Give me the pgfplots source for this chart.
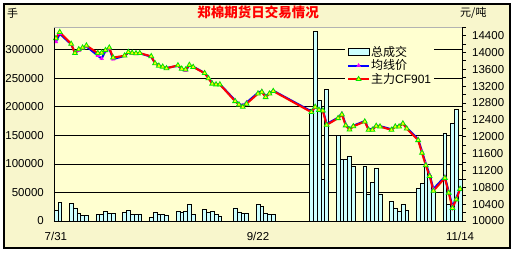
\documentclass[border=0pt]{standalone}
\usepackage{fontspec}
\setmainfont{Liberation Sans}
\newfontfamily\cjk{Noto Sans CJK SC}
\usepackage{pgfplots}
\pgfplotsset{compat=1.18}
\usepackage{pgfplotstable}
\definecolor{plotbg}{RGB}{255,255,208}
\definecolor{outerbg}{RGB}{248,246,204}
\definecolor{barfill}{RGB}{204,255,255}
\definecolor{mgreen}{RGB}{0,230,0}
\definecolor{myellow}{RGB}{255,255,0}
\definecolor{mmag}{RGB}{255,0,255}

\pgfplotstableread{
x vol
0 19500
1 32800
4 31000
5 23000
6 13000
7 10300
8 10300
11 11500
12 11300
13 17200
14 13700
15 13700
18 15200
19 18800
20 12000
21 12000
22 12000
25 6700
26 15300
27 11800
28 11800
29 10700
32 16500
33 15500
34 16200
35 29500
36 11500
39 20800
40 15000
41 17200
42 11500
43 8900
47 22800
48 15800
49 14000
50 14000
53 29700
54 26200
55 13400
56 11600
57 11600
67 195000
68 332500
69 212000
70 72300
71 231000
74 150500
75 108400
76 108400
77 114000
78 96700
81 96700
82 46000
83 68200
84 93000
85 47500
88 35000
89 23000
90 17000
91 29500
92 19000
95 58000
96 66500
97 95000
98 80000
99 52000
102 153600
103 28600
104 171300
105 195500
106 72300
}\vol

\pgfplotstableread{
x main avg
0 14330 14250
1 14480 14440
4 14200 14190
5 13980 13990
6 14070 14040
7 14110 14100
8 14160 14140
11 13980 13920
12 13990 13850
13 14050 14030
14 14110 14090
15 13875 13840
18 13920 13915
19 14005 13990
20 13985 13970
21 13975 13965
22 13980 13975
25 13905 13895
26 13738 13745
27 13681 13690
28 13658 13660
29 13620 13630
32 13690 13680
33 13610 13605
34 13590 13565
35 13700 13690
36 13650 13660
39 13505 13510
40 13383 13400
41 13255 13270
42 13237 13240
43 13237 13245
47 12840 12860
48 12760 12780
49 12705 12740
50 12780 12810
53 13020 13040
54 13060 13080
55 12935 12960
56 13020 13030
57 13080 13090
67 12580 12600
68 12705 12720
69 12633 12650
70 12617 12630
71 12278 12300
74 12437 12450
75 12525 12550
76 12265 12290
77 12165 12185
78 12245 12260
81 12357 12370
82 12160 12180
83 12160 12180
84 12254 12265
85 12238 12250
88 12160 12175
89 12238 12250
90 12238 12250
91 12310 12325
92 12190 12210
95 11915 11940
96 11615 11650
97 11320 11360
98 11065 11100
99 10715 10760
102 11020 11050
103 10670 10700
104 10307 10340
105 10510 10540
106 10760 10780
}\price

\begin{document}
\begin{tikzpicture}[x=1pt,y=1pt]
\useasboundingbox (-54,-31) rectangle (462,221);
\fill[white] (-54,-31) rectangle (462,221);
\fill[outerbg] (-50,-27) rectangle (456,217);
\draw[black, line width=1.2pt] (-50,-27) rectangle (456,217);

\begin{axis}[
  at={(0,0)}, anchor=south west, scale only axis,
  width=408pt, height=194pt,
  xmin=-0.5, xmax=106.5, ymin=0, ymax=340000,
  axis background/.style={fill=plotbg},
  axis line style={draw=none},
  major tick length=0pt, tick style={draw=none},
  ytick={0,50000,100000,150000,200000,250000,300000},
  yticklabels={0,50000,100000,150000,200000,250000,300000},
  scaled y ticks=false, scaled x ticks=false,
  ymajorgrids, grid style={black, line width=0.8pt},
  xtick={0,53,106}, xticklabels={7/31,9/22,11/14},
  yticklabel style={anchor=east, inner sep=0pt, xshift=-10pt, font=\fontsize{11.5}{12}\selectfont},
  xticklabel style={anchor=north, inner sep=0pt, yshift=-11pt, font=\fontsize{11.5}{12}\selectfont},
]
\addplot[ybar, bar width=1, fill=barfill, draw=black, line width=0.6pt] table[x=x,y=vol] {\vol};
\end{axis}

\begin{axis}[
  at={(0,0)}, anchor=south west, scale only axis,
  width=408pt, height=194pt,
  xmin=-0.5, xmax=106.5, ymin=10000, ymax=14600,
  hide x axis, axis y line*=right, y axis line style={draw=none},
  ytick={10000,10400,10800,11200,11600,12000,12400,12800,13200,13600,14000,14400},
  yticklabels={10000,10400,10800,11200,11600,12000,12400,12800,13200,13600,14000,14400},
  minor ytick={10200,10600,11000,11400,11800,12200,12600,13000,13400,13800,14200,14600},
  scaled y ticks=false,
  tick align=outside, major tick length=4pt, minor tick length=4pt,
  tick style={black, line width=0.6pt},
  yticklabel style={anchor=west, inner sep=0pt, xshift=6pt, font=\fontsize{11.5}{12}\selectfont},
  legend style={at={(0.713,0.918)}, anchor=north west, draw=none, fill=plotbg,
    font=\fontsize{12}{14}\selectfont, row sep=0pt, inner sep=2pt,
    nodes={inner sep=1pt}, cells={anchor=west}},
  legend image code/.code={\draw[mark repeat=2,mark phase=2,#1] plot coordinates {(0pt,0pt) (10.5pt,0pt) (21pt,0pt)};},
]
\addlegendimage{legend image code/.code={\draw[fill=barfill,draw=black,line width=0.6pt] (0pt,-3.5pt) rectangle (21pt,3.5pt);}}
\addlegendentry{\cjk 总成交}
\addplot[blue, line width=2pt, mark=triangle*, mark size=2.2pt, mark options={fill=mmag, draw=mmag, line width=0.3pt}] table[x=x,y=avg] {\price};
\addlegendentry{\cjk 均线价}
\addplot[red, line width=2pt, mark=triangle*, mark size=2.8pt, mark options={fill=myellow, draw=mgreen, line width=0.8pt}] table[x=x,y=main] {\price};
\addlegendentry{{\cjk 主力}CF901}
\end{axis}

\node[text=red, font=\cjk\bfseries\fontsize{13.5}{14}\selectfont] at (204,208.5) {郑棉期货日交易情况};
\node[anchor=west, inner sep=0pt, font=\cjk\fontsize{11}{12}\selectfont] at (-47,208) {手};
\node[anchor=west, inner sep=0pt, font=\cjk\fontsize{11}{12}\selectfont] at (406,208) {元/吨};
\draw[black, line width=0.8pt] (0,194) -- (0,0) -- (408,0) -- (408,194);
\draw[gray!60, line width=0.8pt] (0,194) -- (408,194);
\end{tikzpicture}
\end{document}
